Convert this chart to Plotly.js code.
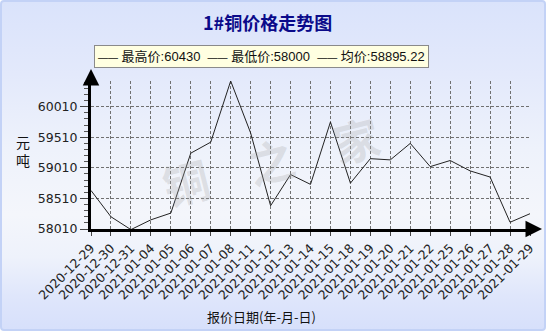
<!DOCTYPE html>
<html>
<head>
<meta charset="utf-8">
<script src="https://cdn.plot.ly/plotly-3.0.1.min.js"></script>
<style>
html,body{margin:0;padding:0;}
#wrap{position:relative;width:546px;height:331px;box-sizing:border-box;border:2px solid #c3d2f6;border-radius:4px;
background:linear-gradient(to bottom,#dae3fb 0%,#e3e9fb 22%,#eef2fb 45%,#f4f6fb 65%,#eef2fb 78%,#dfe6fb 90%,#d7e0fb 100%);overflow:hidden;}
#chart{position:absolute;left:-2px;top:-2px;width:546px;height:331px;}
</style>
</head>
<body>
<div id="wrap"><div id="chart"></div></div>
<script>
const dates = ["2020-12-29","2020-12-30","2020-12-31","2021-01-04","2021-01-05","2021-01-06","2021-01-07","2021-01-08","2021-01-11","2021-01-12","2021-01-13","2021-01-14","2021-01-15","2021-01-18","2021-01-19","2021-01-20","2021-01-21","2021-01-22","2021-01-25","2021-01-26","2021-01-27","2021-01-28","2021-01-29"];
const prices = [58640,58210,58000,58160,58270,59250,59430,60430,59580,58390,58900,58740,59760,58760,59160,59140,59410,59030,59130,58960,58860,58120,58260];
const yTickVals = [58010,58510,59010,59510,60010];

const maxP = Math.max(...prices);
const minP = Math.min(...prices);
const avgP = (prices.reduce((a,b)=>a+b,0)/prices.length).toFixed(2);

const L=91, R=530, T=81, B=229;
const W=R-L, H=B-T;
const px = x => (x-L)/W;
const py = y => (B-y)/H;

const trace = {
  x: dates, y: prices, type:'scatter', mode:'lines',
  line:{color:'#222', width:1}, hoverinfo:'x+y', showlegend:false
};

const nb = '\u00a0';
const dash = '<span style="font-size:10px">——</span>';
const legendText = dash+nb+'最高价:'+maxP+nb+nb+dash+nb+'最低价:'+minP+nb+nb+dash+nb+'均价:'+avgP;
const layout = {
  width:546, height:331,
  margin:{l:L, r:546-R, t:T, b:331-B, pad:0},
  paper_bgcolor:'rgba(0,0,0,0)', plot_bgcolor:'rgba(0,0,0,0)',
  showlegend:false,
  xaxis:{
    type:'category', range:[0, dates.length-1],
    showline:true, linecolor:'#000', linewidth:3,
    showgrid:true, gridcolor:'#707070', gridwidth:1, griddash:'3px,2px',
    ticks:'outside', ticklen:4, tickcolor:'#444', tickwidth:1,
    tickangle:-45, tickfont:{family:'DejaVu Sans', size:12.5, color:'#222'},
    zeroline:false, fixedrange:true
  },
  yaxis:{
    range:[58010, maxP], tickmode:'array', tickvals:yTickVals, ticktext:yTickVals.map(String),
    showline:true, linecolor:'#000', linewidth:3,
    showgrid:true, gridcolor:'#707070', gridwidth:1, griddash:'3px,2px',
    ticks:'outside', ticklen:8, tickcolor:'#444', tickwidth:1,
    tickfont:{family:'DejaVu Sans', size:12.5, color:'#222'},
    minor:{tickmode:'linear', tick0:58010, dtick:100, ticks:'outside', ticklen:4, tickcolor:'#555', showgrid:false},
    zeroline:false, fixedrange:true
  },
  annotations:[
    {text:'1#铜价格走势图', xref:'paper', yref:'paper', x:px(267), y:py(22), showarrow:false,
     xanchor:'center', yanchor:'middle', font:{family:'Noto Sans CJK SC', size:18, color:'#0a0a8a', weight:'bold'}},
    {text:legendText, xref:'paper', yref:'paper',
     x:px(261.5), y:py(56.5), showarrow:false, xanchor:'center', yanchor:'middle',
     bgcolor:'#ffffe1', bordercolor:'#8a8a8a', borderwidth:1, borderpad:3,
     font:{family:'Liberation Sans, Noto Sans CJK SC', size:13, color:'#111'}},
    {text:'报价日期(年-月-日)', xref:'paper', yref:'paper', x:px(261), y:py(316), showarrow:false,
     xanchor:'center', yanchor:'middle', font:{family:'Noto Sans CJK SC', size:13, color:'#111'}},
    {text:'元<br>吨', xref:'paper', yref:'paper', x:px(23), y:py(151), showarrow:false,
     xanchor:'center', yanchor:'middle', font:{family:'Noto Sans CJK SC', size:14, color:'#111'}},
    {text:'铜'+nb+nb+nb+nb+'之'+nb+nb+nb+nb+'家', xref:'paper', yref:'paper', x:px(271), y:py(160), showarrow:false,
     xanchor:'center', yanchor:'middle', textangle:-14,
     font:{family:'Noto Sans CJK SC', size:46, color:'rgba(170,170,170,0.3)', weight:'bold'}},
    {text:'', xref:'paper', yref:'paper', x:px(91), y:py(69), ax:0, ay:16, axref:'pixel', ayref:'pixel',
     showarrow:true, arrowhead:2, arrowsize:1.1, arrowwidth:3, arrowcolor:'#000', standoff:0},
    {text:'', xref:'paper', yref:'paper', x:px(542), y:py(229), ax:-16, ay:0, axref:'pixel', ayref:'pixel',
     showarrow:true, arrowhead:2, arrowsize:1.1, arrowwidth:3, arrowcolor:'#000', standoff:0}
  ]
};

Plotly.newPlot('chart', [trace], layout, {displayModeBar:false, staticPlot:true});
</script>
</body>
</html>
